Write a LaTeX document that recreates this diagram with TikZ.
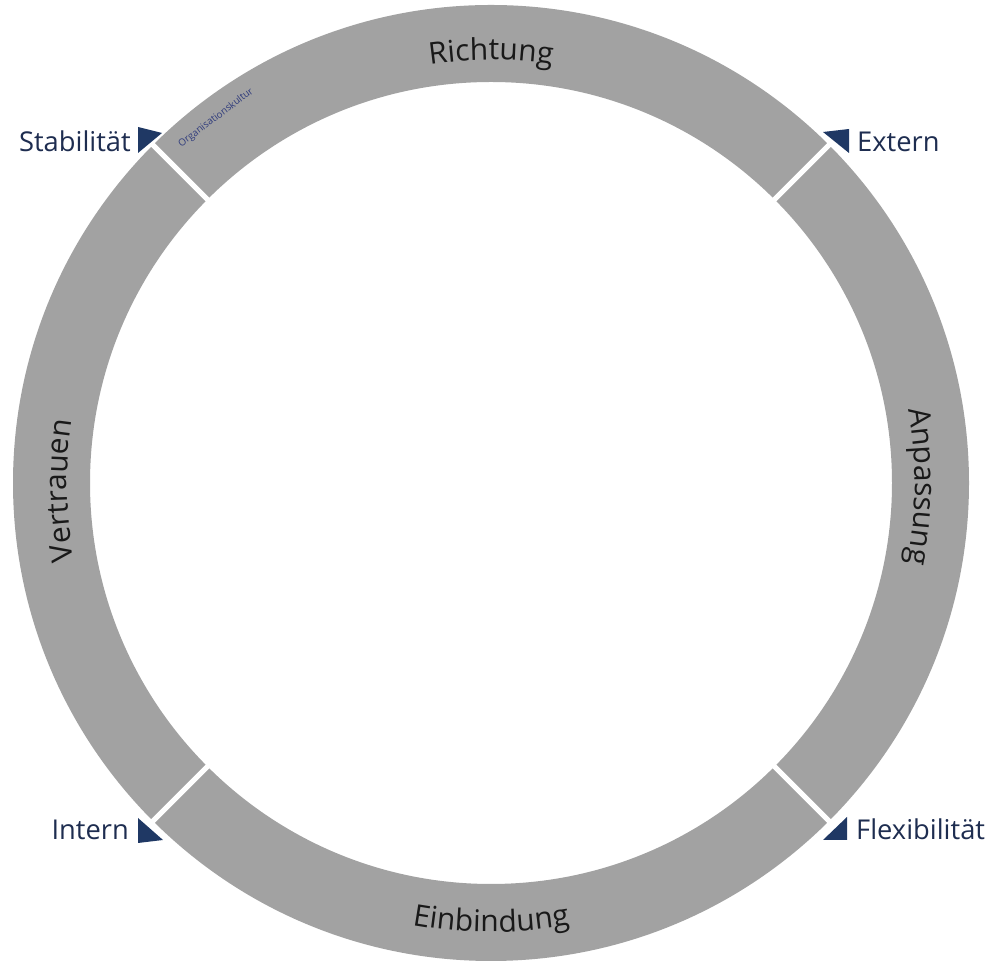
\documentclass[tikz,border=0pt]{standalone}
\usepackage{fontspec}
\setmainfont{Open Sans}
\usetikzlibrary{decorations.text}
\definecolor{ringgray}{RGB}{162,162,162}
\definecolor{navy}{RGB}{31,56,100}
\definecolor{labelnavy}{RGB}{30,45,80}
\definecolor{smallnavy}{RGB}{50,62,125}
\definecolor{ringtext}{RGB}{25,25,25}
\newcommand{\ringfont}{\fontsize{30}{30}\selectfont}
\newcommand{\labfont}{\fontsize{27.3}{27.3}\selectfont}
\newcommand{\smallfont}{\fontsize{9.8}{9.8}\selectfont}
\tikzset{
  sidelabel/.style={text=labelnavy, font=\labfont, inner sep=0pt},
  marker/.style={fill=navy},
  gapline/.style={white, line width=5pt},
}
\begin{document}
\begin{tikzpicture}[x=1pt,y=1pt]
\useasboundingbox (0,0) rectangle (989,961);
\coordinate (c) at (491,478);
% ring
\fill[ringgray, even odd rule] (c) circle[radius=478] (c) circle[radius=401];
% gaps
\foreach \a in {45,135,225,315}
  \draw[gapline] ([shift={(\a:395)}]c) -- ([shift={(\a:486)}]c);
% ring texts
\path[decorate, decoration={text along path, text align=center, text color=ringtext,
  text={|\ringfont|Richtung}}]
  ([shift={(120:423)}]c) arc[start angle=120, end angle=60, radius=423];
\path[decorate, decoration={text along path, text align=center, text color=ringtext,
  text={|\ringfont|Einbindung}}]
  ([shift={(240:449)}]c) arc[start angle=240, end angle=300, radius=449];
\path[decorate, decoration={text along path, text align=center, text color=ringtext,
  text={|\ringfont|Vertrauen}}]
  ([shift={(211:424)}]c) arc[start angle=211, end angle=151, radius=424];
\path[decorate, decoration={text along path, text align=center, text color=ringtext,
  text={|\ringfont|Anpassung}}]
  ([shift={(29.5:424)}]c) arc[start angle=29.5, end angle=-30.5, radius=424];
\node[text=smallnavy, font=\smallfont, inner sep=0pt, rotate=37] (org)
  at ([shift={(127:457)}]c) {Organisationskultur};
% markers
\fill[marker] (138,834) -- (162,828) -- (138,808) -- cycle;
\fill[marker] (823,829) -- (849,832) -- (849,808) -- cycle;
\fill[marker] (138,143) -- (138,118) -- (163,121) -- cycle;
\fill[marker] (847,144) -- (847,121) -- (823,121) -- cycle;
% labels
\node[sidelabel, anchor=base east] (stab) at (131,809) {Stabilität};
\node[sidelabel, anchor=base west] (ext) at (857,809) {Extern};
\node[sidelabel, anchor=base east] (int) at (129,121) {Intern};
\node[sidelabel, anchor=base west] (flex) at (856,121) {Flexibilität};
\end{tikzpicture}
\end{document}
